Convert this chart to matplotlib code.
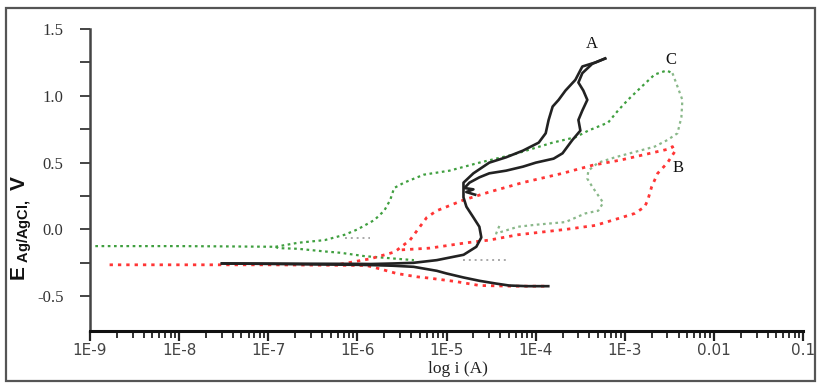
import numpy as np
import matplotlib
matplotlib.use("Agg")
import matplotlib.pyplot as plt
from matplotlib.ticker import FixedLocator, NullFormatter, LogLocator
from matplotlib.patches import Rectangle

# ---------------- data (log10 of current in A, potential in V) ----------------
# Curve A (black, solid)
a_cath_logi = [-7.52, -7.0, -6.5, -6.0, -5.85, -5.6, -5.37, -5.11, -5.0, -4.81, -4.63, -4.45, -4.3, -4.1, -3.86]
a_cath_E    = [-0.255, -0.258, -0.262, -0.265, -0.267, -0.272, -0.28, -0.31, -0.33, -0.36, -0.385, -0.405, -0.42, -0.425, -0.425]
a_anod_logi = [-7.52, -7.0, -6.5, -6.0, -5.85, -5.6, -5.37, -5.11, -4.81, -4.667, -4.611, -4.633, -4.70, -4.778,
               -4.811, -4.811, -4.811, -4.70, -4.522, -4.333, -4.144, -3.967, -3.889, -3.856, -3.811, -3.744,
               -3.667, -3.556, -3.478, -3.333, -3.222]
a_anod_E    = [-0.255, -0.256, -0.257, -0.258, -0.259, -0.255, -0.25, -0.23, -0.19, -0.13, -0.06, 0.02, 0.09, 0.17,
               0.24, 0.32, 0.35, 0.42, 0.50, 0.54, 0.59, 0.65, 0.72, 0.82, 0.92, 0.97,
               1.04, 1.12, 1.22, 1.25, 1.28]
a_rev_logi  = [-3.222, -3.367, -3.478, -3.522, -3.467, -3.422, -3.478, -3.522, -3.50, -3.589, -3.70, -3.80,
               -4.0, -4.144, -4.333, -4.522, -4.633, -4.744, -4.80, -4.70, -4.78, -4.68]
a_rev_E     = [1.28, 1.24, 1.17, 1.10, 1.04, 0.97, 0.89, 0.82, 0.74, 0.67, 0.57, 0.53,
               0.50, 0.47, 0.44, 0.42, 0.39, 0.35, 0.31, 0.30, 0.28, 0.26]

# Curve B (red, dotted)
b_cath_logi = [-8.78, -8.0, -7.0, -6.3, -5.9, -5.78, -5.56, -5.33, -5.19, -4.9, -4.63, -4.26, -3.89]
b_cath_E    = [-0.265, -0.265, -0.265, -0.268, -0.27, -0.29, -0.33, -0.355, -0.365, -0.39, -0.42, -0.425, -0.425]
b_anod_logi = [-6.19, -5.856, -5.589, -5.556, -5.411, -5.30, -5.222, -5.111, -4.811, -4.522, -4.15,
               -3.70, -3.367, -3.044, -2.522, -2.467, -2.444]
b_anod_E    = [-0.26, -0.22, -0.17, -0.155, -0.08, 0.02, 0.09, 0.14, 0.22, 0.28, 0.35,
               0.42, 0.48, 0.52, 0.60, 0.62, 0.58]
b_rev_logi  = [-2.444, -2.522, -2.633, -2.70, -2.744, -2.778, -2.889, -3.033, -3.333, -3.667, -4.2,
               -4.522, -4.778, -5.189, -5.556]
b_rev_E     = [0.58, 0.50, 0.42, 0.32, 0.22, 0.17, 0.12, 0.09, 0.03, 0.0, -0.04,
               -0.08, -0.10, -0.14, -0.155]

# Curve C (green, dotted)
c_cath_logi = [-8.94, -8.0, -7.5, -6.92, -6.889, -6.667, -6.367, -6.189, -5.922, -5.556, -5.367]
c_cath_E    = [-0.125, -0.125, -0.127, -0.13, -0.14, -0.145, -0.165, -0.175, -0.20, -0.22, -0.23]
c_anod_logi = [-6.92, -6.667, -6.367, -6.144, -6.0, -5.811, -5.70, -5.633, -5.589, -5.478, -5.256,
               -4.967, -4.633, -4.256, -3.811, -3.556, -3.411, -3.189, -3.078, -2.967, -2.811,
               -2.667, -2.533, -2.467]
c_anod_E    = [-0.13, -0.10, -0.08, -0.04, 0.0, 0.07, 0.14, 0.22, 0.31, 0.35, 0.41,
               0.44, 0.50, 0.56, 0.65, 0.69, 0.74, 0.80, 0.89, 0.97, 1.07,
               1.16, 1.19, 1.17]
c_rev_logi  = [-2.467, -2.411, -2.356, -2.367, -2.411, -2.522, -2.667, -2.889, -3.111, -3.30, -3.411,
               -3.422, -3.367, -3.244, -3.30, -3.444, -3.667, -4.0, -4.2, -4.444, -4.4]
c_rev_E     = [1.17, 1.07, 0.97, 0.84, 0.72, 0.67, 0.62, 0.58, 0.54, 0.50, 0.44,
               0.38, 0.32, 0.20, 0.14, 0.12, 0.055, 0.035, 0.02, -0.03, 0.04]

# light grey dotted fragments
g1_logi = [-4.811, -4.30]
g1_E    = [-0.23, -0.23]
g2_logi = [-6.144, -5.856]
g2_E    = [-0.065, -0.065]

labels = ["A", "B", "C"]
label_logi = [-3.37, -2.41, -2.48]
label_E    = [1.39, 0.46, 1.27]

xtick_exps   = [-9, -8, -7, -6, -5, -4, -3, -2, -1]
xtick_labels = ["1E-9", "1E-8", "1E-7", "1E-6", "1E-5", "1E-4", "1E-3", "0.01", "0.1"]
ytick_major  = [-0.5, 0.0, 0.5, 1.0, 1.5]
ytick_labels = ["-0.5", "0.0", "0.5", "1.0", "1.5"]
ytick_minor  = [-0.25, 0.25, 0.75, 1.25]

# ---------------- figure ----------------
fig = plt.figure(figsize=(8.18, 3.83), dpi=100)
fig.patch.set_facecolor("white")
fig.add_artist(Rectangle((0.007, 0.004), 0.989, 0.976, transform=fig.transFigure,
                         fill=False, edgecolor="#555555", linewidth=1.6))

ax = fig.add_axes([0.110, 0.136, 0.872, 0.788])
ax.set_xscale("log")

def cur(v):
    return np.power(10.0, np.asarray(v, dtype=float))

green = "#3f9f3f"
green_light = "#8ab88a"
red = "#ff3535"
black = "#222222"
grey = "#a8a8a8"

# C
ax.plot(cur(c_cath_logi), c_cath_E, color=green, lw=1.6, ls=(0, (1.2, 1.6)))
ax.plot(cur(c_anod_logi), c_anod_E, color=green, lw=1.6, ls=(0, (1.2, 1.6)))
ax.plot(cur(c_rev_logi), c_rev_E, color=green_light, lw=1.6, ls=(0, (1.2, 1.6)))
ax.plot(cur(g1_logi), g1_E, color=grey, lw=1.4, ls=(0, (1, 2)))
ax.plot(cur(g2_logi), g2_E, color=grey, lw=1.4, ls=(0, (1, 2)))
# B
ax.plot(cur(b_cath_logi), b_cath_E, color=red, lw=2.0, ls=(0, (1.2, 1.8)))
ax.plot(cur(b_anod_logi), b_anod_E, color=red, lw=2.0, ls=(0, (1.2, 1.8)))
ax.plot(cur(b_rev_logi), b_rev_E, color=red, lw=2.0, ls=(0, (1.2, 1.8)))
# A
ax.plot(cur(a_cath_logi), a_cath_E, color=black, lw=1.9)
ax.plot(cur(a_anod_logi), a_anod_E, color=black, lw=1.9)
ax.plot(cur(a_rev_logi), a_rev_E, color=black, lw=1.9)

for t, lx, ly in zip(labels, label_logi, label_E):
    ax.text(10 ** lx, ly, t, family="Liberation Serif", fontsize=12, ha="center", va="center",
            color="#111111")

ax.set_xlim(1e-9, 1e-1)
ax.set_ylim(-0.76, 1.5)

for s in ["top", "right"]:
    ax.spines[s].set_visible(False)
ax.spines["left"].set_color("#444444")
ax.spines["left"].set_linewidth(1.8)
ax.spines["bottom"].set_color("#111111")
ax.spines["bottom"].set_linewidth(2.2)

ax.set_xticks([10.0 ** e for e in xtick_exps])
ax.set_xticklabels(xtick_labels, family="DejaVu Sans", fontsize=11, color="#444444")
ax.xaxis.set_minor_locator(LogLocator(base=10, subs=np.arange(2, 10), numticks=20))
ax.xaxis.set_minor_formatter(NullFormatter())
ax.tick_params(axis="x", which="major", direction="out", length=7, width=1.6, color="#222222", pad=2)
ax.tick_params(axis="x", which="minor", direction="out", length=5, width=1.3, color="#222222")

ax.set_yticks(ytick_major)
ax.set_yticklabels(ytick_labels, family="Liberation Serif", fontsize=12, color="#333333")
ax.yaxis.set_minor_locator(FixedLocator(ytick_minor))
ax.tick_params(axis="y", which="major", direction="out", length=7, width=1.4, color="#444444", pad=12)
ax.tick_params(axis="y", which="minor", direction="out", length=7, width=1.4, color="#444444")

fig.text(458 / 818, 1 - 369 / 383, "log i (A)", family="Liberation Serif", fontsize=12.5,
         ha="center", va="center", color="#222222")

plt.rcParams["mathtext.fontset"] = "custom"
plt.rcParams["mathtext.bf"] = "Liberation Sans:bold"
plt.rcParams["mathtext.rm"] = "Liberation Sans"
fig.text(22 / 818, 1 - 228 / 383, r"$\mathbf{E}_{\ \mathbf{Ag/AgCl,}}\ \mathbf{V}$", fontsize=15,
         rotation=90, ha="center", va="center", color="#111111")

fig.savefig("out.png", dpi=100, facecolor="white")
